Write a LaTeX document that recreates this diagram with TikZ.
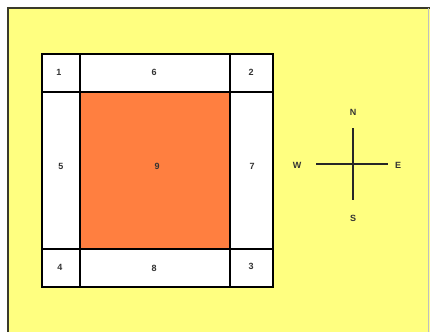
\documentclass[tikz,border=0pt]{standalone}
\usepackage{fontspec}
\setmainfont{Liberation Sans}
\definecolor{bgyellow}{HTML}{FFFF80}
\definecolor{cellorange}{HTML}{FF7F40}
\definecolor{frame}{HTML}{3A3A2A}
\begin{document}
\begin{tikzpicture}[x=1pt,y=-1pt,
  cell/.style={draw=black,line width=1.6pt,fill=white},
  lbl/.style={font=\fontsize{9}{10}\selectfont\bfseries,text=black!80,inner sep=0pt},
  axis/.style={draw=black!85,line width=1.6pt}]
\useasboundingbox (0,0) rectangle (430,332);
\fill[white] (0,0) rectangle (430,332);
\fill[bgyellow] (8,8) rectangle (430,332);
\draw[frame,line width=1.5pt] (8,332) -- (8,8) -- (430,8);
\draw[black!25,line width=1pt] (428,8) -- (428,332);
% grid
\path[cell] (42,54) rectangle (273,287);
\path[cell,fill=cellorange] (80,92) rectangle (230,249);
\draw[line width=1.6pt] (42,92) -- (273,92);
\draw[line width=1.6pt] (42,249) -- (273,249);
\draw[line width=1.6pt] (80,54) -- (80,287);
\draw[line width=1.6pt] (230,54) -- (230,287);
\draw[line width=1.6pt] (42,54) rectangle (273,287);
\node[lbl] (c1) at (59,72) {1};
\node[lbl] (c6) at (154,72) {6};
\node[lbl] (c2) at (251,72) {2};
\node[lbl] (c5) at (61,166) {5};
\node[lbl] (c9) at (157,166) {9};
\node[lbl] (c7) at (252,166) {7};
\node[lbl] (c4) at (60,267) {4};
\node[lbl] (c8) at (154,268) {8};
\node[lbl] (c3) at (251,266) {3};
% compass
\node[lbl] (N) at (353,112) {N};
\node[lbl] (S) at (353,218) {S};
\node[lbl] (W) at (297,165) {W};
\node[lbl] (E) at (398,165) {E};
\coordinate (ct) at (353,128);
\coordinate (cb) at (353,200);
\coordinate (cl) at (316,164);
\coordinate (cr) at (388,164);
\draw[axis] (ct) -- (cb);
\draw[axis] (cl) -- (cr);
\end{tikzpicture}
\end{document}
